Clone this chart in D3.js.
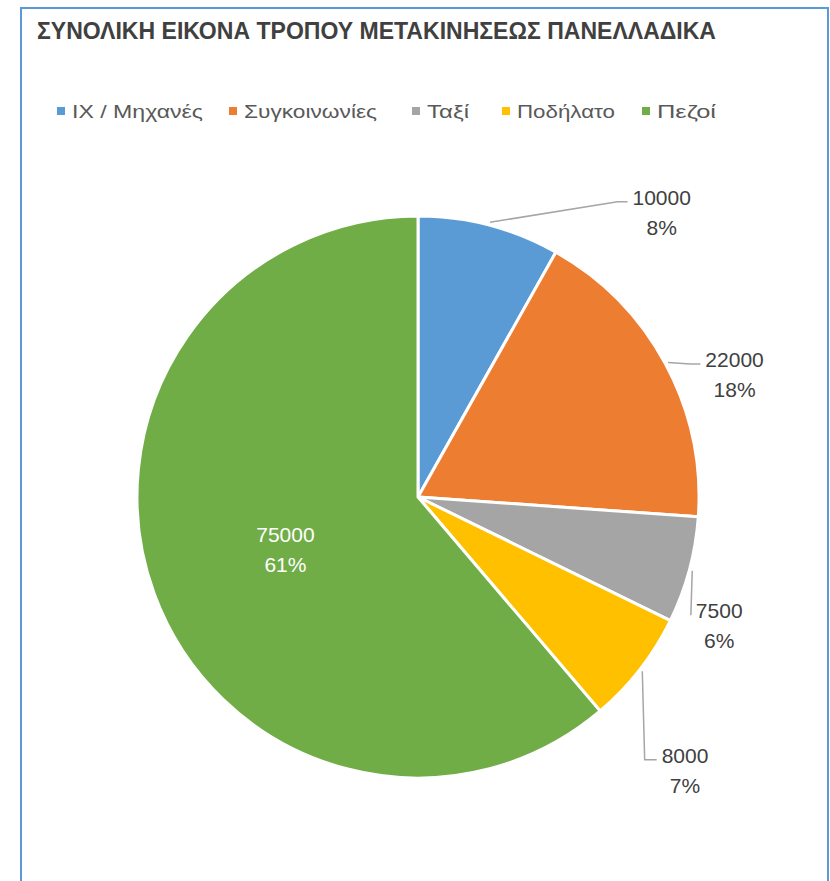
<!DOCTYPE html>
<html>
<head>
<meta charset="utf-8">
<script src="https://cdn.jsdelivr.net/npm/d3@7"></script>
<style>
  html, body { margin: 0; padding: 0; background: #fff; }
  svg { display: block; }
  text { font-family: "Liberation Sans", Arial, sans-serif; }
</style>
</head>
<body>
<svg id="chart" width="830" height="881"></svg>
<script>
// ---- data ----
const titleText = "ΣΥΝΟΛΙΚΗ ΕΙΚΟΝΑ ΤΡΟΠΟΥ ΜΕΤΑΚΙΝΗΣΕΩΣ ΠΑΝΕΛΛΑΔΙΚΑ";
const categories = ["ΙΧ / Μηχανές", "Συγκοινωνίες", "Ταξί", "Ποδήλατο", "Πεζοί"];
const values = [10000, 22000, 7500, 8000, 75000];
const colors = ["#5b9bd5", "#ed7d31", "#a5a5a5", "#ffc000", "#70ad47"];

// ---- layout (not data) ----
const labelAngle = [40.4, 68.6, 112.9, 135.5, 249];   // degrees clockwise from top
const labelDist  = [376, 340, 327, 381, 142];
const labelOutside = [true, true, true, true, false];
const leaderTail = [10, 10, 0, 12, 0];
const legendX = [57, 229, 412, 502, 642];
const legendTextW = [131, 133, 42, 98, 59];

const W = 830, H = 881;
const svg = d3.select("#chart");

// frame
svg.append("rect")
  .attr("x", 21).attr("y", 8)
  .attr("width", 807).attr("height", H)
  .attr("fill", "#fff")
  .attr("stroke", "#5b9bd5").attr("stroke-width", 2);

// title
svg.append("text")
  .attr("x", 37).attr("y", 39)
  .attr("font-size", 23).attr("font-weight", "bold")
  .attr("fill", "#404040")
  .attr("textLength", 679).attr("lengthAdjust", "spacingAndGlyphs")
  .text(titleText);

// legend
const legend = svg.append("g");
categories.forEach((c, i) => {
  const g = legend.append("g").attr("transform", `translate(${legendX[i]},118)`);
  g.append("rect").attr("x", 0).attr("y", -11).attr("width", 8).attr("height", 8).attr("fill", colors[i]);
  g.append("text").attr("x", 15).attr("y", 0).attr("font-size", 19).attr("fill", "#595959")
    .attr("textLength", legendTextW[i]).attr("lengthAdjust", "spacingAndGlyphs")
    .text(c);
});

// pie
const cx = 418, cy = 497, R = 281;
const total = d3.sum(values);
const pie = d3.pie().sort(null).value(d => d)(values);
const arc = d3.arc().innerRadius(0).outerRadius(R);
const gPie = svg.append("g").attr("transform", `translate(${cx},${cy})`);
gPie.selectAll("path").data(pie).join("path")
  .attr("d", arc)
  .attr("fill", (d, i) => colors[i])
  .attr("stroke", "#fff").attr("stroke-width", 3).attr("stroke-linejoin", "round");

// labels
const fmtPct = v => Math.round(v / total * 100) + "%";
const polar = (deg, r) => {
  const a = deg * Math.PI / 180;
  return [r * Math.sin(a), -r * Math.cos(a)];
};
pie.forEach((d, i) => {
  const [lx, ly] = polar(labelAngle[i], labelDist[i]);
  const t = gPie.append("text")
    .attr("text-anchor", "middle")
    .attr("font-size", 21)
    .attr("fill", labelOutside[i] ? "#404040" : "#ffffff");
  t.append("tspan").attr("x", lx).attr("y", ly - 6).text(d.value);
  t.append("tspan").attr("x", lx).attr("y", ly + 24).text(fmtPct(d.value));
  if (labelOutside[i]) {
    const bw = t.node().getBBox().width;
    const mid = (d.startAngle + d.endAngle) / 2 * 180 / Math.PI;
    const s = polar(mid, R + 3);
    const ex = lx - bw / 2 - 5, ey = ly - 9;
    const pts = leaderTail[i] > 0 ? [s, [ex - leaderTail[i], ey], [ex, ey]] : [s, [ex, ey]];
    gPie.insert("path", "text")
      .attr("d", d3.line()(pts))
      .attr("fill", "none")
      .attr("stroke", "#a6a6a6").attr("stroke-width", 1.5);
  }
});
</script>
</body>
</html>
